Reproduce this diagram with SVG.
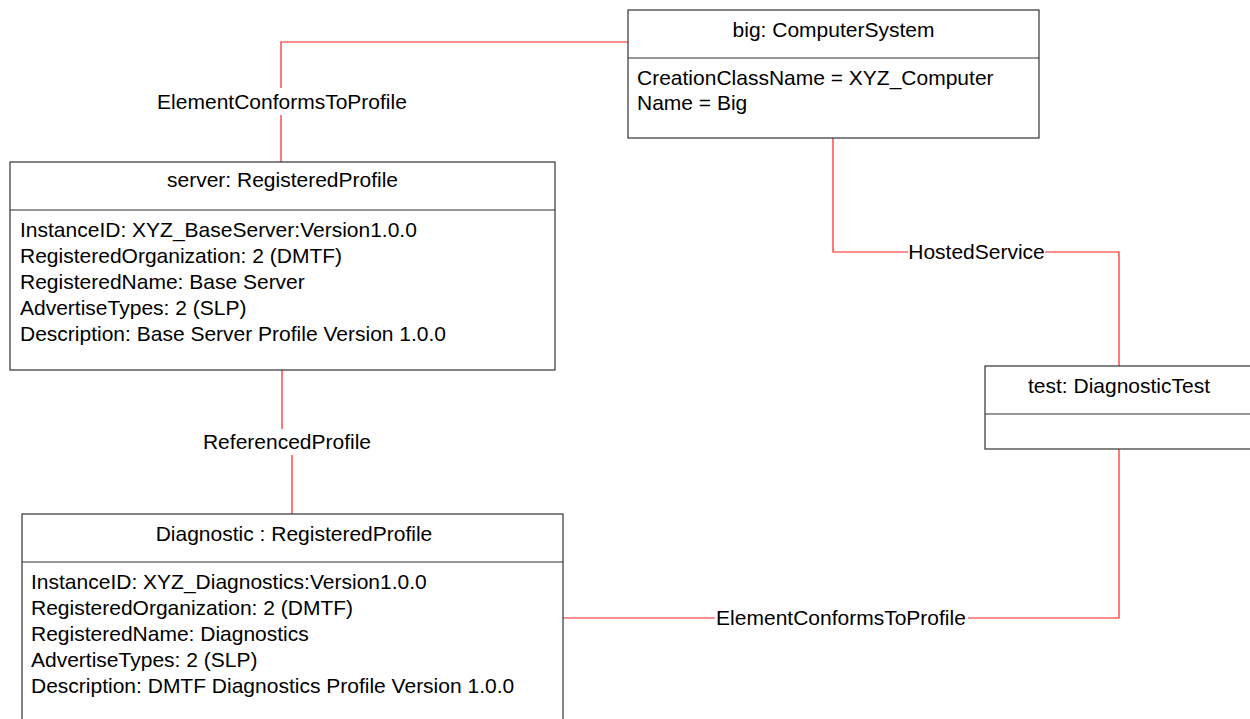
<svg xmlns="http://www.w3.org/2000/svg" width="1250" height="719" viewBox="0 0 1250 719">
  <style>
    text { font-family: "Liberation Sans", Arial, sans-serif; font-size: 21px; fill: #000; }
    .title { text-anchor: middle; }
    .lbl { text-anchor: middle; }
    .box { fill: #fff; stroke: #333; stroke-width: 1.2; }
    .sep { stroke: #333; stroke-width: 1.2; }
    .wire { fill: none; stroke: #ff2020; stroke-width: 1.2; }
    .mask { fill: #fff; }
  </style>
  <rect width="1250" height="719" fill="#fff"/>

  <!-- association lines -->
  <g id="connectors">
    <polyline class="wire" points="628,42 281,42 281,162"/>
    <rect class="mask" x="155" y="88" width="254" height="27"/>
    <text class="lbl" x="282" y="109">ElementConformsToProfile</text>

    <polyline class="wire" points="833,138 833,252 1119,252 1119,366"/>
    <rect class="mask" x="908" y="240" width="137" height="24"/>
    <text class="lbl" x="976.5" y="259">HostedService</text>

    <polyline class="wire" points="282,370 282,442 292,442 292,514"/>
    <rect class="mask" x="202" y="429" width="171" height="26"/>
    <text class="lbl" x="287" y="449">ReferencedProfile</text>

    <polyline class="wire" points="563,618 1119,618 1119,449"/>
    <rect class="mask" x="715" y="606" width="253" height="24"/>
    <text class="lbl" x="841" y="625">ElementConformsToProfile</text>
  </g>

  <g id="node-computersystem">
    <rect class="box" x="628" y="10" width="411" height="128"/>
    <line class="sep" x1="628" y1="58" x2="1039" y2="58"/>
    <text class="title" x="833.5" y="37">big: ComputerSystem</text>
    <text x="637" y="85">CreationClassName = XYZ_Computer</text>
    <text x="637" y="110">Name = Big</text>
  </g>

  <g id="node-server">
    <rect class="box" x="10" y="162" width="545" height="208"/>
    <line class="sep" x1="10" y1="210" x2="555" y2="210"/>
    <text class="title" x="282.5" y="187">server: RegisteredProfile</text>
    <text x="20" y="237">InstanceID: XYZ_BaseServer:Version1.0.0</text>
    <text x="20" y="263">RegisteredOrganization: 2 (DMTF)</text>
    <text x="20" y="289">RegisteredName: Base Server</text>
    <text x="20" y="315">AdvertiseTypes: 2 (SLP)</text>
    <text x="20" y="341">Description: Base Server Profile Version 1.0.0</text>
  </g>

  <g id="node-diagnostic">
    <rect class="box" x="22" y="514" width="541" height="215"/>
    <line class="sep" x1="22" y1="562" x2="563" y2="562"/>
    <text class="title" x="294" y="541">Diagnostic : RegisteredProfile</text>
    <text x="31" y="589">InstanceID: XYZ_Diagnostics:Version1.0.0</text>
    <text x="31" y="615">RegisteredOrganization: 2 (DMTF)</text>
    <text x="31" y="641">RegisteredName: Diagnostics</text>
    <text x="31" y="667">AdvertiseTypes: 2 (SLP)</text>
    <text x="31" y="693">Description: DMTF Diagnostics Profile Version 1.0.0</text>
  </g>

  <g id="node-test">
    <rect class="box" x="985" y="366" width="268" height="83"/>
    <line class="sep" x1="985" y1="414" x2="1253" y2="414"/>
    <text class="title" x="1119" y="393">test: DiagnosticTest</text>
  </g>
</svg>
